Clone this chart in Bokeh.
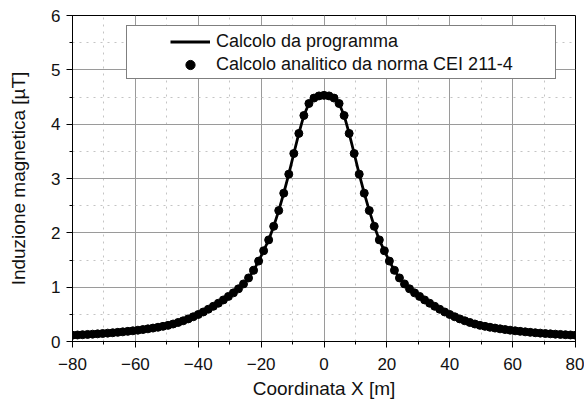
from bokeh.plotting import figure
from bokeh.models import Range1d, SingleIntervalTicker, Legend, LegendItem
from bokeh.embed import file_html
from bokeh.resources import INLINE

# Coordinate X [m]
x_coord = [-80.0, -78.4, -76.8, -75.2, -73.6, -72.0, -70.4, -68.8, -67.2, -65.6,
           -64.0, -62.4, -60.8, -59.2, -57.6, -56.0, -54.4, -52.8, -51.2, -49.6,
           -48.0, -46.4, -44.8, -43.2, -41.6, -40.0, -38.4, -36.8, -35.2, -33.6,
           -32.0, -30.4, -28.8, -27.2, -25.6, -24.0, -22.4, -20.8, -19.2, -17.6,
           -16.0, -14.4, -12.8, -11.2, -9.6, -8.0, -6.4, -4.8, -3.2, -1.6,
           0.0,
           1.6, 3.2, 4.8, 6.4, 8.0, 9.6, 11.2, 12.8, 14.4, 16.0,
           17.6, 19.2, 20.8, 22.4, 24.0, 25.6, 27.2, 28.8, 30.4, 32.0,
           33.6, 35.2, 36.8, 38.4, 40.0, 41.6, 43.2, 44.8, 46.4, 48.0,
           49.6, 51.2, 52.8, 54.4, 56.0, 57.6, 59.2, 60.8, 62.4, 64.0,
           65.6, 67.2, 68.8, 70.4, 72.0, 73.6, 75.2, 76.8, 78.4, 80.0]

# Induzione magnetica [uT] - calcolo da programma
b_programma = [0.116, 0.120, 0.125, 0.130, 0.135, 0.141, 0.147, 0.154, 0.161, 0.169,
               0.178, 0.187, 0.197, 0.208, 0.220, 0.233, 0.247, 0.262, 0.279, 0.297,
               0.322, 0.350, 0.381, 0.416, 0.455, 0.497, 0.543, 0.594, 0.648, 0.705,
               0.765, 0.830, 0.895, 0.970, 1.060, 1.170, 1.310, 1.480, 1.670, 1.870,
               2.120, 2.410, 2.730, 3.080, 3.460, 3.830, 4.160, 4.380, 4.480, 4.520,
               4.530,
               4.520, 4.480, 4.380, 4.160, 3.830, 3.460, 3.080, 2.730, 2.410, 2.120,
               1.870, 1.670, 1.480, 1.310, 1.170, 1.060, 0.970, 0.895, 0.830, 0.765,
               0.705, 0.648, 0.594, 0.543, 0.497, 0.455, 0.416, 0.381, 0.350, 0.322,
               0.297, 0.279, 0.262, 0.247, 0.233, 0.220, 0.208, 0.197, 0.187, 0.178,
               0.169, 0.161, 0.154, 0.147, 0.141, 0.135, 0.130, 0.125, 0.120, 0.116]

# Induzione magnetica [uT] - calcolo analitico da norma CEI 211-4
b_norma = [0.116, 0.120, 0.125, 0.130, 0.135, 0.141, 0.147, 0.154, 0.161, 0.169,
           0.178, 0.187, 0.197, 0.208, 0.220, 0.233, 0.247, 0.262, 0.279, 0.297,
           0.322, 0.350, 0.381, 0.416, 0.455, 0.497, 0.543, 0.594, 0.648, 0.705,
           0.765, 0.830, 0.895, 0.970, 1.060, 1.170, 1.310, 1.480, 1.670, 1.870,
           2.120, 2.410, 2.730, 3.080, 3.460, 3.830, 4.160, 4.380, 4.480, 4.520,
           4.530,
           4.520, 4.480, 4.380, 4.160, 3.830, 3.460, 3.080, 2.730, 2.410, 2.120,
           1.870, 1.670, 1.480, 1.310, 1.170, 1.060, 0.970, 0.895, 0.830, 0.765,
           0.705, 0.648, 0.594, 0.543, 0.497, 0.455, 0.416, 0.381, 0.350, 0.322,
           0.297, 0.279, 0.262, 0.247, 0.233, 0.220, 0.208, 0.197, 0.187, 0.178,
           0.169, 0.161, 0.154, 0.147, 0.141, 0.135, 0.130, 0.125, 0.120, 0.116]

label_programma = "Calcolo da programma"
label_norma = "Calcolo analitico da norma CEI 211-4"
x_title = "Coordinata X [m]"
y_title = "Induzione magnetica [µT]"

FONT = "Liberation Sans"

p = figure(width=584, height=405, output_backend="svg", toolbar_location=None,
           x_range=Range1d(-80, 80), y_range=Range1d(0, 6),
           min_border_left=72, min_border_right=9, min_border_top=15, min_border_bottom=64)
p.background_fill_color = "white"
p.border_fill_color = "white"
p.outline_line_color = "black"
p.outline_line_width = 1

p.xaxis.ticker = SingleIntervalTicker(interval=20, num_minor_ticks=2)
p.yaxis.ticker = SingleIntervalTicker(interval=1, num_minor_ticks=2)

for ax in (p.xaxis[0], p.yaxis[0]):
    ax.axis_line_color = "black"
    ax.major_tick_line_color = "black"
    ax.minor_tick_line_color = "black"
    ax.major_tick_in = 0
    ax.minor_tick_in = 0
    ax.major_tick_out = 6
    ax.minor_tick_out = 3
    ax.major_label_text_font = FONT
    ax.major_label_text_font_size = "17px"
    ax.major_label_text_color = "#111111"
    ax.axis_label_text_font = FONT
    ax.axis_label_text_font_size = "19px"
    ax.axis_label_text_font_style = "normal"
    ax.axis_label_text_color = "#111111"

p.xaxis.axis_label = x_title
p.yaxis.axis_label = y_title
p.xaxis.major_label_standoff = 10
p.xaxis.axis_label_standoff = 5
p.yaxis.major_label_standoff = 6
p.yaxis.axis_label_standoff = 19

for g in (p.xgrid[0], p.ygrid[0]):
    g.grid_line_color = "#9a9a9a"
    g.grid_line_width = 1
    g.minor_grid_line_color = "#c4c4c4"
    g.minor_grid_line_dash = "2 5"
    g.minor_grid_line_width = 1

r_line = p.line(x_coord, b_programma, line_color="black", line_width=2.8)
r_pts = p.scatter(x_coord, b_norma, size=8, fill_color="black", line_color="black")

# invisible renderers used only to size the legend frame
d1 = p.line([], [], line_alpha=0)
d2 = p.scatter([], [], fill_alpha=0, line_alpha=0)

box = Legend(items=[LegendItem(label=" ", renderers=[d1]),
                    LegendItem(label=" ", renderers=[d2])],
             location=(54, 262), margin=0, padding=3, spacing=0,
             glyph_width=40, glyph_height=23, label_standoff=6, label_width=376,
             label_text_alpha=0, label_text_font=FONT, label_text_font_size="18px",
             border_line_color="black", border_line_width=1,
             background_fill_color="white", background_fill_alpha=1)

leg = Legend(items=[LegendItem(label=label_programma, renderers=[r_line]),
                    LegendItem(label=label_norma, renderers=[r_pts])],
             location=(95, 262), margin=0, padding=3, spacing=0,
             glyph_width=40, glyph_height=23, label_standoff=6,
             label_text_font=FONT, label_text_font_size="18px", label_text_color="#111111",
             border_line_alpha=0, background_fill_alpha=0)

p.add_layout(box, "center")
p.add_layout(leg, "center")

open("out.html", "w").write(file_html(p, INLINE))
